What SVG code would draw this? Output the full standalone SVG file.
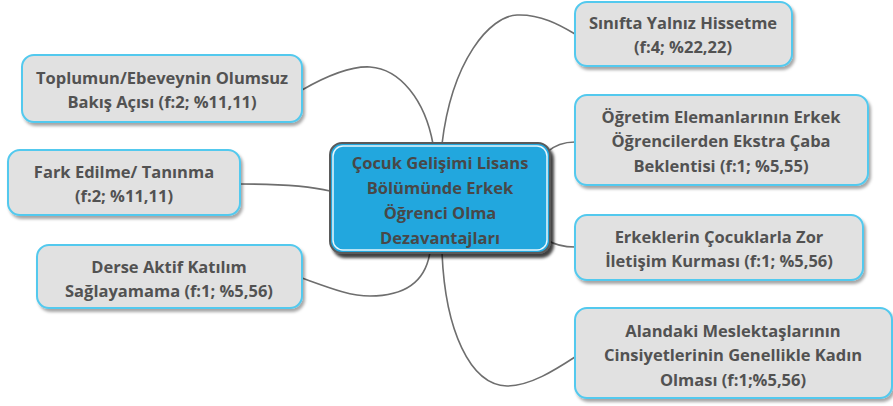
<svg xmlns="http://www.w3.org/2000/svg" width="893" height="406" viewBox="0 0 893 406">
<defs>
<filter id="sh" x="-10%" y="-10%" width="130%" height="140%">
<feDropShadow dx="2" dy="3" stdDeviation="1.5" flood-color="#000" flood-opacity="0.35"/>
</filter>
<filter id="shc" x="-10%" y="-10%" width="130%" height="140%">
<feDropShadow dx="3" dy="4" stdDeviation="1.5" flood-color="#000" flood-opacity="0.75"/>
</filter>
</defs>
<style>
.n{fill:#e1e1e1;stroke:#52c9ee;stroke-width:2;filter:url(#sh)}
.t{font-family:"Open Sans","Noto Sans","Liberation Sans",sans-serif;font-weight:bold;font-size:16.5px;fill:#525252;text-anchor:middle}
.c{fill:none;stroke:#6e6e6e;stroke-width:1.6}
</style>
<rect width="893" height="406" fill="#fff"/>
<g id="connectors">
<path class="c" d="M302,90 C330,74 352,66 370,67 C400,69 425,100 433,144"/>
<path class="c" d="M442,144 C452,60 490,16 517,15 C540,14 560,25 575,34"/>
<path class="c" d="M240,184 C280,184 310,186 330,191"/>
<path class="c" d="M302,278 C330,288 350,296 370,296 C400,296 425,285 430,252"/>
<path class="c" d="M442,252 C445,330 470,385 507,386 C530,386 555,370 575,357"/>
<path class="c" d="M547,152 C555,145 563,142 575,142"/>
<path class="c" d="M547,240 C555,245 563,247 575,247"/>
</g>
<g id="center">
<rect x="330" y="143" width="220" height="110" rx="12" fill="#24a7de" stroke="#5a5a5a" stroke-width="2" filter="url(#shc)"/>
<rect x="333" y="146" width="214" height="104" rx="10" fill="none" stroke="#e8f6fc" stroke-width="1.5"/>
<text class="t" x="440" y="169" style="fill:#484848">Çocuk Gelişimi Lisans</text>
<text class="t" x="440" y="194" style="fill:#484848">Bölümünde Erkek</text>
<text class="t" x="440" y="219" style="fill:#484848">Öğrenci Olma</text>
<text class="t" x="440" y="244" style="fill:#484848">Dezavantajları</text>
</g>
<g id="n1">
<rect class="n" x="22" y="55" width="280" height="67" rx="12"/>
<text class="t" x="162" y="84">Toplumun/Ebeveynin Olumsuz</text>
<text class="t" x="162" y="108">Bakış Açısı (f:2; %11,11)</text>
</g>
<g id="n2">
<rect class="n" x="8" y="150" width="232" height="65" rx="12"/>
<text class="t" x="124" y="178">Fark Edilme/ Tanınma</text>
<text class="t" x="124" y="202">(f:2; %11,11)</text>
</g>
<g id="n3">
<rect class="n" x="37" y="245" width="265" height="63" rx="12"/>
<text class="t" x="169" y="273">Derse Aktif Katılım</text>
<text class="t" x="169" y="297">Sağlayamama (f:1; %5,56)</text>
</g>
<g id="n4">
<rect class="n" x="575" y="2" width="217" height="64" rx="12"/>
<text class="t" x="683" y="29">Sınıfta Yalnız Hissetme</text>
<text class="t" x="683" y="53">(f:4; %22,22)</text>
</g>
<g id="n5">
<rect class="n" x="575" y="95" width="293" height="90" rx="12"/>
<text class="t" x="721" y="123">Öğretim Elemanlarının Erkek</text>
<text class="t" x="721" y="147">Öğrencilerden Ekstra Çaba</text>
<text class="t" x="721" y="172">Beklentisi (f:1; %5,55)</text>
</g>
<g id="n6">
<rect class="n" x="575" y="215" width="288" height="65" rx="12"/>
<text class="t" x="719" y="243">Erkeklerin Çocuklarla Zor</text>
<text class="t" x="719" y="267">İletişim Kurması (f:1; %5,56)</text>
</g>
<g id="n7">
<rect class="n" x="575" y="308" width="317" height="90" rx="12"/>
<text class="t" x="733" y="337">Alandaki Meslektaşlarının</text>
<text class="t" x="733" y="361">Cinsiyetlerinin Genellikle Kadın</text>
<text class="t" x="733" y="386">Olması (f:1;%5,56)</text>
</g>
</svg>
